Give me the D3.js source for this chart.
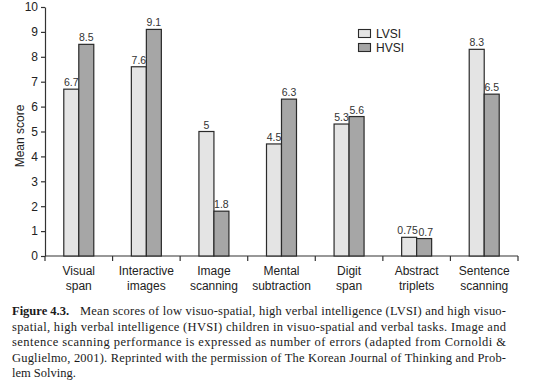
<!DOCTYPE html>
<html>
<head>
<meta charset="utf-8">
<script src="https://cdn.jsdelivr.net/npm/d3@7"></script>
<style>
  body { margin: 0; background: #fff; }
  svg { display: block; }
  .axis text { font-family: "Liberation Sans", Arial, sans-serif; font-size: 12px; fill: #222; }
  .axis path, .axis line { stroke: #333; stroke-width: 1.2; }
</style>
</head>
<body>
<svg id="chart" width="540" height="390"></svg>
<script>
const categories = [
  ["Visual", "span"],
  ["Interactive", "images"],
  ["Image", "scanning"],
  ["Mental", "subtraction"],
  ["Digit", "span"],
  ["Abstract", "triplets"],
  ["Sentence", "scanning"]
];
const lvsi = [6.7, 7.6, 5, 4.5, 5.3, 0.75, 8.3];
const hvsi = [8.5, 9.1, 1.8, 6.3, 5.6, 0.7, 6.5];
const lvsiLabels = ["6.7", "7.6", "5", "4.5", "5.3", "0.75", "8.3"];
const hvsiLabels = ["8.5", "9.1", "1.8", "6.3", "5.6", "0.7", "6.5"];
const yTicks = [0, 1, 2, 3, 4, 5, 6, 7, 8, 9, 10];
const seriesNames = ["LVSI", "HVSI"];
const colors = { LVSI: "#e4e4e4", HVSI: "#a6a6a6" };

const captionLines = [
  "Mean scores of low visuo-spatial, high verbal intelligence (LVSI) and high visuo-",
  "spatial, high verbal intelligence (HVSI) children in visuo-spatial and verbal tasks. Image and",
  "sentence scanning performance is expressed as number of errors (adapted from Cornoldi &",
  "Guglielmo, 2001). Reprinted with the permission of The Korean Journal of Thinking and Prob-",
  "lem Solving."
];

const svg = d3.select("#chart");
const plotLeft = 45, plotRight = 518, plotTop = 7, plotBottom = 256;

const x = d3.scaleBand().domain(d3.range(categories.length)).range([plotLeft, plotRight]).padding(0);
const y = d3.scaleLinear().domain([0, 10]).range([plotBottom, plotTop]);
const barW = 15;

// Y axis
svg.append("g").attr("class", "axis")
  .attr("transform", `translate(${plotLeft},0)`)
  .call(d3.axisLeft(y).tickValues(yTicks).tickSize(4).tickSizeOuter(0).tickPadding(3));

// X axis: ticks at category boundaries
const xg = svg.append("g").attr("class", "axis");
xg.append("line").attr("x1", plotLeft).attr("x2", plotRight).attr("y1", plotBottom).attr("y2", plotBottom);
d3.range(categories.length + 1).forEach(i => {
  const xx = i < categories.length ? x(i) : plotRight;
  xg.append("line").attr("x1", xx).attr("x2", xx).attr("y1", plotBottom).attr("y2", plotBottom + 5);
});
categories.forEach((c, i) => {
  const cx = x(i) + x.bandwidth() / 2;
  const t = xg.append("text").attr("text-anchor", "middle").attr("x", cx).attr("y", plotBottom + 19);
  t.append("tspan").attr("x", cx).text(c[0]);
  t.append("tspan").attr("x", cx).attr("dy", 15).text(c[1]);
});

// Y label
svg.append("text")
  .attr("transform", "translate(24,136) rotate(-90)")
  .attr("text-anchor", "middle")
  .style("font-family", "Liberation Sans, Arial, sans-serif")
  .style("font-size", "12px").style("fill", "#222")
  .text("Mean score");

// Bars
const series = [
  { name: "LVSI", values: lvsi, labels: lvsiLabels, off: -barW },
  { name: "HVSI", values: hvsi, labels: hvsiLabels, off: 0 }
];
const valueLabels = [];
series.forEach(s => {
  svg.append("g").selectAll("rect").data(s.values).enter().append("rect")
    .attr("x", (d, i) => x(i) + x.bandwidth() / 2 + s.off)
    .attr("y", d => y(d))
    .attr("width", barW)
    .attr("height", d => plotBottom - y(d))
    .attr("fill", colors[s.name])
    .attr("stroke", "#2a2a2a")
    .attr("stroke-width", 1.2);
  const lbl = svg.append("g").selectAll("text").data(s.values).enter().append("text")
    .attr("x", (d, i) => x(i) + x.bandwidth() / 2 + s.off + barW / 2)
    .attr("y", d => y(d) - 3)
    .attr("text-anchor", "middle")
    .style("font-family", "Liberation Sans, Arial, sans-serif")
    .style("font-size", "10.5px").style("fill", "#333")
    .text((d, i) => s.labels[i]);
  valueLabels.push(lbl.nodes());
});

// nudge pair labels apart when they collide
categories.forEach((c, i) => {
  const a = valueLabels[0][i], b = valueLabels[1][i];
  const ba = a.getBBox(), bb = b.getBBox();
  const vOverlap = ba.y < bb.y + bb.height && bb.y < ba.y + ba.height;
  const over = ba.x + ba.width - bb.x + 0.5;
  if (vOverlap && over > 0) {
    a.setAttribute("x", +a.getAttribute("x") - over / 2);
    b.setAttribute("x", +b.getAttribute("x") + over / 2);
  }
});

// Legend
const leg = svg.append("g");
seriesNames.forEach((n, i) => {
  leg.append("rect").attr("x", 358.5).attr("y", 29.5 + i * 14).attr("width", 12).attr("height", 8)
    .attr("fill", colors[n]).attr("stroke", "#2a2a2a").attr("stroke-width", 1.1);
  leg.append("text").attr("x", 376).attr("y", 38 + i * 14)
    .style("font-family", "Liberation Sans, Arial, sans-serif")
    .style("font-size", "12px").style("fill", "#222")
    .text(n);
});

// Caption
const cap = svg.append("g")
  .style("font-family", "Liberation Serif, 'Times New Roman', serif")
  .style("font-size", "12.5px").style("fill", "#1a1a1a");
const baselines = [315, 330.5, 346, 361.5, 377];
cap.append("text").attr("x", 12).attr("y", baselines[0])
  .style("font-weight", "bold").text("Figure 4.3.");
captionLines.forEach((line, i) => {
  const x0 = i === 0 ? 80 : 12;
  const t = cap.append("text").attr("x", x0).attr("y", baselines[i]).text(line);
  if (i < captionLines.length - 1) {
    t.attr("textLength", 506 - x0).attr("lengthAdjust", "spacing");
  }
});
</script>
</body>
</html>
